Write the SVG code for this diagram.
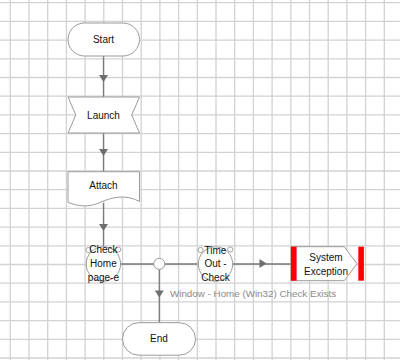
<svg xmlns="http://www.w3.org/2000/svg" width="400" height="360" viewBox="0 0 400 360">
<style>
.grid{fill:none;stroke:#d2d2d2;stroke-width:1.3}
.node{fill:#fff;stroke:#9a9a9a;stroke-width:1}
.ear{fill:#fff;stroke:#9a9a9a;stroke-width:0.9}
.conn{fill:none;stroke:#7a7a7a;stroke-width:1.3}
.ah{fill:#6e6e6e}
.t{font-family:"Liberation Sans",Arial,sans-serif;font-size:10px;fill:#111;text-anchor:middle}
.lbl{font-family:"Liberation Sans",Arial,sans-serif;font-size:9.8px;fill:#8a8a8a}
.red{fill:#f00}
</style>
<defs>
<path id="ahd" d="M-4.5,-3 L4.5,-3 L0,4 Z"/>
</defs>
<rect width="400" height="360" fill="#fff"/>
<path class="grid" d="M10.3,0V360M29,0V360M47.7,0V360M66.4,0V360M85.1,0V360M103.8,0V360M122.5,0V360M141.2,0V360M159.9,0V360M178.6,0V360M197.3,0V360M216,0V360M234.7,0V360M253.4,0V360M272.1,0V360M290.8,0V360M309.5,0V360M328.2,0V360M346.9,0V360M365.6,0V360M384.3,0V360M0,2.7H400M0,21.4H400M0,40.1H400M0,58.8H400M0,77.5H400M0,96.2H400M0,114.9H400M0,133.6H400M0,152.3H400M0,171H400M0,189.7H400M0,208.4H400M0,227.1H400M0,245.8H400M0,264.5H400M0,283.2H400M0,301.9H400M0,320.6H400M0,339.3H400M0,358H400"/>
<g id="connectors">
<path class="conn" d="M103.5,56V97M103.5,133V172M103.5,203V247M120.7,264H154M165,264H197.5M232.7,264H291M159.3,269.5V322.7"/>
<use href="#ahd" class="ah" x="103.5" y="78"/>
<use href="#ahd" class="ah" x="103.5" y="152"/>
<use href="#ahd" class="ah" x="103.5" y="227"/>
<use href="#ahd" class="ah" transform="translate(262.5,263.5) rotate(-90)"/>
<use href="#ahd" class="ah" x="159.3" y="293.5"/>
<text class="lbl" x="170" y="296.5">Window - Home (Win32) Check Exists</text>
</g>
<g id="start">
<rect class="node" x="68" y="23" width="71.5" height="33" rx="16.5"/>
<text class="t" x="103.5" y="43">Start</text>
</g>
<g id="launch">
<path class="node" d="M68,97H139.5L131.7,115L139.5,133H68L75.8,115Z"/>
<text class="t" x="103.5" y="119">Launch</text>
</g>
<g id="attach">
<path class="node" d="M68,171.7H139.5V201.5C126,194 112,197 100,202.5C88,208 78,206 68,202.5Z"/>
<text class="t" x="103.5" y="188.5">Attach</text>
</g>
<g id="check-home">
<circle class="ear" cx="88.5" cy="250" r="2.6"/>
<circle class="ear" cx="118.2" cy="249.5" r="2.6"/>
<circle class="node" cx="103.4" cy="264" r="17.2"/>
<text class="t" x="103.4" y="252.5">Check</text>
<text class="t" x="103.4" y="267">Home</text>
<text class="t" x="103.4" y="280.5">page-e</text>
</g>
<g id="junction">
<circle class="node" cx="159.3" cy="263.8" r="5.5"/>
</g>
<g id="time-out">
<circle class="ear" cx="200.6" cy="250" r="2.6"/>
<circle class="ear" cx="230.3" cy="249.5" r="2.6"/>
<circle class="node" cx="215.5" cy="264" r="17.2"/>
<text class="t" x="215.5" y="254">Time</text>
<text class="t" x="215.5" y="267">Out -</text>
<text class="t" x="215.5" y="280.5">Check</text>
</g>
<g id="system-exception">
<path class="node" d="M291,246.7H344.2L357,263.7L344.2,280.7H291Z"/>
<rect class="red" x="291" y="246.7" width="5.6" height="34"/>
<rect class="red" x="358.3" y="246.7" width="5.6" height="34"/>
<text class="t" x="326" y="260.5">System</text>
<text class="t" x="326" y="274.5">Exception</text>
</g>
<g id="end">
<rect class="node" x="122.5" y="322.7" width="73" height="32.5" rx="16.2"/>
<text class="t" x="159" y="342">End</text>
</g>
</svg>
